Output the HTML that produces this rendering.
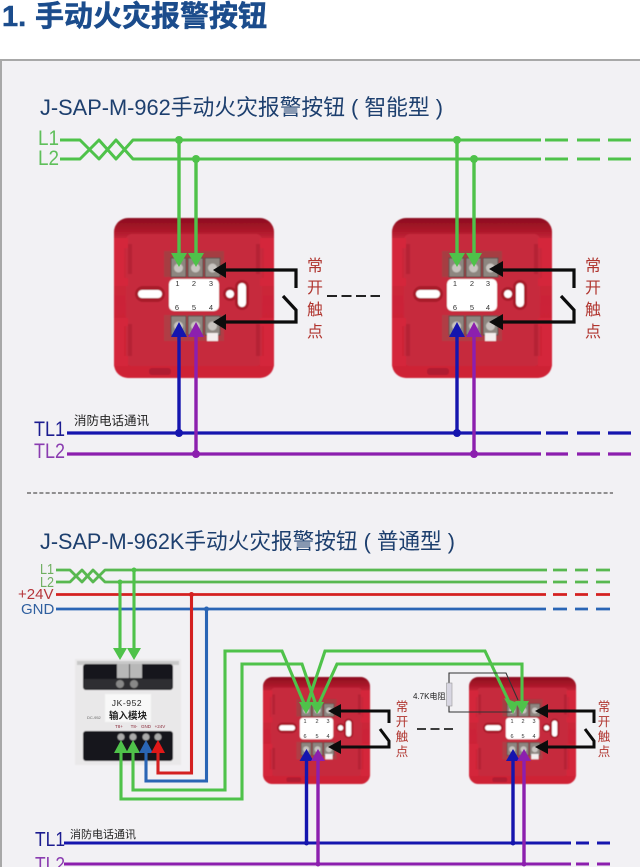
<!DOCTYPE html>
<html><head><meta charset="utf-8"><style>
html,body{margin:0;padding:0;background:#fff;overflow:hidden}
svg{display:block;filter:blur(.35px)}
text{font-family:"Liberation Sans","Noto Sans CJK SC",sans-serif}
</style></head><body>
<svg width="640" height="867" viewBox="0 0 640 867" xmlns="http://www.w3.org/2000/svg">
<defs>
<filter id="b" x="-5%" y="-5%" width="110%" height="110%"><feGaussianBlur stdDeviation="0.5"/></filter>
<linearGradient id="rim" x1="0" y1="0" x2="0" y2="1"><stop offset="0" stop-color="#8c0f20"/><stop offset=".07" stop-color="#a81528"/><stop offset=".14" stop-color="#c9283a"/><stop offset="1" stop-color="#cf2034"/></linearGradient>
<symbol id="dev" viewBox="0 0 160 160" width="160" height="160" overflow="visible">
<rect x="0" y="0" width="160" height="160" rx="14" fill="url(#rim)"/>
<rect x="12" y="16" width="136" height="132" rx="6" fill="#c62c3e"/>
<path d="M0 20h14v10h-4v30h4v8H0zM160 20h-14v10h4v30h-4v8h14zM0 100h14v8h-4v30h4v10H0zM160 100h-14v8h4v30h-4v10h14z" fill="#d4283a"/>
<path d="M14 26h4v30h-4zM146 26h-4v30h4zM14 106h4v32h-4zM146 106h-4v32h4z" fill="#b52134"/>
<rect x="35" y="150" width="22" height="7" rx="3" fill="#b01e30"/>
<rect x="50" y="33" width="60" height="26" fill="#a63d42"/>
<rect x="50" y="97" width="60" height="26" fill="#b03e44"/>
<g fill="#8d8680" stroke="#5b4a48" stroke-width="1">
<rect x="57" y="40" width="15" height="19"/><rect x="74" y="40" width="15" height="19"/><rect x="91" y="40" width="15" height="19"/>
<rect x="57" y="98" width="15" height="19"/><rect x="74" y="98" width="15" height="19"/><rect x="91" y="98" width="15" height="19"/>
</g>
<g fill="#c8c4c0"><circle cx="64.5" cy="50" r="4.5"/><circle cx="81.5" cy="50" r="4.5"/><circle cx="98.5" cy="50" r="4.5"/><circle cx="64.5" cy="108" r="4.5"/><circle cx="81.5" cy="108" r="4.5"/><circle cx="98.5" cy="108" r="4.5"/></g>
<rect x="93" y="115" width="11" height="8" fill="#f4eeee"/>
<rect x="55" y="61" width="50" height="32" rx="5" fill="#fff"/>
<rect x="21" y="68" width="30" height="16" rx="8" fill="#a81a2c"/>
<rect x="24" y="72" width="24" height="8" rx="4" fill="#fff"/>
<circle cx="116" cy="76" r="7" fill="#a81a2c"/>
<circle cx="116" cy="76" r="4" fill="#fff"/>
<rect x="121" y="62" width="14" height="30" rx="7" fill="#a81a2c"/>
<rect x="124" y="65" width="8" height="24" rx="4" fill="#fff"/>
</symbol>
</defs>

<rect width="640" height="867" fill="#fff"/>
<rect x="1" y="60" width="640" height="810" fill="#f2f1f4" stroke="#a8a8a8" stroke-width="2"/>

<text x="2" y="26" font-size="29" font-weight="700" fill="#1b4c8c" stroke="#1b4c8c" stroke-width=".5">1.</text>
<text x="35" y="26" font-size="29" font-weight="700" fill="#1b4c8c" stroke="#1b4c8c" stroke-width=".5">手动火灾报警按钮</text>

<text x="40" y="115" font-size="22" fill="#1d3f6e" textLength="403" lengthAdjust="spacingAndGlyphs">J-SAP-M-962手动火灾报警按钮 ( 智能型 )</text>
<text x="40" y="549" font-size="22" fill="#1d3f6e" textLength="415" lengthAdjust="spacingAndGlyphs">J-SAP-M-962K手动火灾报警按钮 ( 普通型 )</text>

<!-- devices -->
<g filter="url(#b)">
<use href="#dev" x="114" y="218"/>
<use href="#dev" x="392" y="218"/>
<g transform="translate(263 677) scale(.669)"><use href="#dev"/></g>
<g transform="translate(469 677) scale(.669)"><use href="#dev"/></g>
<!-- module -->
<rect x="75" y="659" width="106" height="106" fill="#e9e8e9"/>
<rect x="77" y="661" width="102" height="4" fill="#c8c8c8"/>
<rect x="83" y="664" width="90" height="26" rx="3" fill="#17171a"/>
<rect x="83" y="731" width="90" height="30" rx="3" fill="#17171a"/>
<rect x="84" y="679" width="88" height="10" fill="#2e2e30"/>
<rect x="117" y="664" width="12" height="14" fill="#b8b8b8"/>
<rect x="130" y="664" width="12" height="14" fill="#b8b8b8"/>
<circle cx="120" cy="684" r="4" fill="#888"/><circle cx="134" cy="684" r="4" fill="#888"/>
<circle cx="121" cy="737" r="3.5" fill="#aaa"/><circle cx="133" cy="737" r="3.5" fill="#aaa"/><circle cx="146" cy="737" r="3.5" fill="#aaa"/><circle cx="158" cy="737" r="3.5" fill="#aaa"/>
<rect x="105" y="694" width="46" height="28" fill="#f8f8f8"/>
</g>

<text x="127" y="706" font-size="8.5" text-anchor="middle" fill="#222" letter-spacing=".6">JK-952</text>
<text x="128" y="719" font-size="9.5" font-weight="700" text-anchor="middle" fill="#222">输入模块</text>
<text x="87" y="719" font-size="4" fill="#666">DC-952</text>
<text x="119" y="728" font-size="4.5" text-anchor="middle" fill="#8a2a3a">T8+</text>
<text x="134" y="728" font-size="4.5" text-anchor="middle" fill="#8a2a3a">T8-</text>
<text x="146" y="728" font-size="4.5" text-anchor="middle" fill="#8a2a3a">GND</text>
<text x="160" y="728" font-size="4.5" text-anchor="middle" fill="#8a2a3a">+24V</text>

<!-- terminal numbers -->
<g font-size="7.5" text-anchor="middle" fill="#333">
<text x="177.5" y="286">1</text><text x="194" y="286">2</text><text x="211" y="286">3</text>
<text x="177" y="310">6</text><text x="194" y="310">5</text><text x="211" y="310">4</text>
<text x="455" y="286">1</text><text x="472" y="286">2</text><text x="488" y="286">3</text>
<text x="455" y="310">6</text><text x="472" y="310">5</text><text x="488" y="310">4</text>
</g>
<g font-size="5.5" text-anchor="middle" fill="#333">
<text x="305" y="723">1</text><text x="317" y="723">2</text><text x="328" y="723">3</text>
<text x="305" y="738">6</text><text x="317" y="738">5</text><text x="328" y="738">4</text>
<text x="512" y="723">1</text><text x="523" y="723">2</text><text x="534" y="723">3</text>
<text x="512" y="738">6</text><text x="523" y="738">5</text><text x="534" y="738">4</text>
</g>

<!-- top L1 L2 -->
<g fill="none" stroke="#4fc24a" stroke-width="3" stroke-linejoin="round">
<path d="M60 140H80L99 159L116 140L133 159H541"/>
<path d="M60 159H80L99 140L116 159L133 140H541"/>
<path d="M545 140H568M577 140H600M608 140H631M545 159H568M577 159H600M608 159H631"/>
</g>
<g fill="none" stroke="#4fc24a" stroke-width="3.4">
<path d="M179 140V256M196 159V256M457 140V256M474 159V256"/>
</g>
<g fill="#4fc24a">
<circle cx="179" cy="140" r="4"/><circle cx="196" cy="159" r="4"/><circle cx="457" cy="140" r="4"/><circle cx="474" cy="159" r="4"/>
<path d="M171 253H187L179 267ZM188 253H204L196 267ZM449 253H465L457 267ZM466 253H482L474 267Z"/>
</g>

<!-- TL top -->
<g fill="none" stroke-width="3.2">
<path stroke="#1515ae" d="M67 433H541M546 433H568M577 433H600M608 433H631"/>
<path stroke="#8c1fae" d="M67 454H541M546 454H568M577 454H600M608 454H631"/>
<path stroke="#1515ae" stroke-width="3.4" d="M179 433V335M457 433V335"/>
<path stroke="#8c1fae" stroke-width="3.4" d="M196 454V335M474 454V335"/>
</g>
<g fill="#1515ae"><circle cx="179" cy="433" r="4"/><circle cx="457" cy="433" r="4"/>
<path d="M171 337H187L179 322ZM449 337H465L457 322Z"/></g>
<g fill="#8c1fae"><circle cx="196" cy="454" r="4"/><circle cx="474" cy="454" r="4"/>
<path d="M188 337H204L196 322ZM466 337H482L474 322Z"/></g>

<!-- black switch top -->
<g fill="none" stroke="#0c0c0c" stroke-width="3.2">
<path d="M220 270H296V288M283 296L296 310V322H220"/>
<path d="M495 270H574V288M561 296L574 310V322H495"/>
</g>
<g fill="#0c0c0c">
<path d="M213 270L226 262V278ZM213 322L226 314V330ZM489 269L503 261V277ZM489 322L503 314V330Z"/>
</g>
<path d="M327 296H380" stroke="#222" stroke-width="2" stroke-dasharray="10 4.5" fill="none"/>

<g font-size="16" text-anchor="middle" fill="#b0352f">
<text x="315" y="271">常</text><text x="315" y="293">开</text><text x="315" y="315">触</text><text x="315" y="337">点</text>
<text x="593" y="271">常</text><text x="593" y="293">开</text><text x="593" y="315">触</text><text x="593" y="337">点</text>
</g>

<text x="38" y="145" font-size="21.5" fill="#5fbf5a" textLength="21" lengthAdjust="spacingAndGlyphs">L1</text>
<text x="38" y="165" font-size="21.5" fill="#5fbf5a" textLength="21" lengthAdjust="spacingAndGlyphs">L2</text>
<text x="34" y="436" font-size="21" fill="#1c1c90" textLength="31" lengthAdjust="spacingAndGlyphs">TL1</text>
<text x="34" y="458" font-size="21" fill="#8a3cb0" textLength="31" lengthAdjust="spacingAndGlyphs">TL2</text>
<text x="74" y="425" font-size="12.5" fill="#222">消防电话通讯</text>

<path d="M27 493H613" stroke="#555" stroke-width="1.2" stroke-dasharray="4 2.2" fill="none"/>

<!-- bottom buses -->
<text x="40" y="574" font-size="15" fill="#6fae60" textLength="14" lengthAdjust="spacingAndGlyphs">L1</text>
<text x="40" y="587" font-size="15" fill="#6fae60" textLength="14" lengthAdjust="spacingAndGlyphs">L2</text>
<text x="18" y="599" font-size="15" fill="#b5353a">+24V</text>
<text x="21" y="614" font-size="15" fill="#2f5f9f">GND</text>

<g fill="none" stroke-width="2.8" stroke-linejoin="round">
<g stroke="#58b850">
<path d="M56 570H70L82 582L93 570L105 582H547"/>
<path d="M56 582H70L82 570L93 582L105 570H547"/>
<path d="M553 570H567M575 570H588M596 570H610M553 582H567M575 582H588M596 582H610"/>
</g>
<path stroke="#d42020" d="M56 594.5H546M553 594.5H567M575 594.5H588M596 594.5H610"/>
<path stroke="#2a65b5" d="M56 609H546M553 609H567M575 609H588M596 609H610"/>
</g>
<g fill="none" stroke-width="3.1" stroke-linejoin="miter">
<path stroke="#4fc24a" d="M120 582V650M134 570V650"/>
<path stroke="#d42020" d="M191.5 594.5V773H158V750"/>
<path stroke="#2a65b5" d="M206.5 609V781H146V750"/>
<path stroke="#4fc24a" d="M121 750V799H242V664H302L317 708"/>
<path stroke="#4fc24a" d="M133 750V790H225V651H282L306 708"/>
<path stroke="#4fc24a" d="M306 708L325 651H485L512 708"/>
<path stroke="#4fc24a" d="M317 708L337 664H522V708"/>
</g>
<g fill="#4fc24a">
<circle cx="120" cy="582" r="2.5"/><circle cx="134" cy="570" r="2.5"/>
<path d="M113 648H127L120 660ZM127 648H141L134 660Z"/>
<path d="M114 753H128L121 740ZM126 753H140L133 740Z"/>
<path d="M299 702H313L306 714ZM310 702H324L317 714Z"/>
<path d="M504 698L518 703L513 714ZM515 701H529L522 714Z"/>
</g>
<circle cx="191.5" cy="594.5" r="2.5" fill="#d42020"/>
<circle cx="206.5" cy="609" r="2.5" fill="#2a65b5"/>
<path d="M139 753H153L146 740Z" fill="#2a65b5"/>
<path d="M151 753H165L158 740Z" fill="#e01818"/>

<!-- TL bottom -->
<g fill="none" stroke-width="3">
<path stroke="#1515ae" d="M64 843H571M576 843H589M597 843H610"/>
<path stroke="#8c1fae" d="M64 864H571M576 864H589M597 864H610"/>
<path stroke="#1515ae" stroke-width="3.4" d="M306.5 843V756M513 843V756"/>
<path stroke="#8c1fae" stroke-width="3.4" d="M318 864V756M524 864V756"/>
</g>
<g fill="#1515ae"><circle cx="306.5" cy="843" r="2.5"/><circle cx="513" cy="843" r="2.5"/>
<path d="M299.500 761H313.500L306.500 749ZM506 761H520L513 749Z"/></g>
<g fill="#8c1fae"><circle cx="318" cy="864" r="2.500"/><circle cx="524" cy="864" r="2.500"/>
<path d="M311 761H325L318 749ZM517 761H531L524 749Z"/></g>
<text x="35" y="846" font-size="20" fill="#1c1c90" textLength="30" lengthAdjust="spacingAndGlyphs">TL1</text>
<text x="35" y="871" font-size="20" fill="#8a3cb0" textLength="30" lengthAdjust="spacingAndGlyphs">TL2</text>
<text x="70" y="838" font-size="11" fill="#222">消防电话通讯</text>

<!-- black switch bottom -->
<g fill="none" stroke="#0c0c0c" stroke-width="3">
<path d="M335 711H389V723M380 729L389 741V747H335"/>
<path d="M541 711H594V723M585 729L594 741V747H541"/>
</g>
<g fill="#0c0c0c"><path d="M328 711L341 704V718ZM328 747L341 740V754ZM535 711L548 704V718ZM535 747L548 740V754Z"/></g>
<path d="M417 729H456" stroke="#222" stroke-width="1.8" stroke-dasharray="9 4.5" fill="none"/>
<g font-size="12.500" text-anchor="middle" fill="#b0352f">
<text x="402" y="711">常</text><text x="402" y="726">开</text><text x="402" y="741">触</text><text x="402" y="756">点</text>
<text x="604" y="711">常</text><text x="604" y="726">开</text><text x="604" y="741">触</text><text x="604" y="756">点</text>
</g>
<!-- resistor -->
<path d="M449 683V673H506L518 700M449 706V712H512" fill="none" stroke="#333" stroke-width="1.1"/>
<rect x="446.500" y="683" width="5.500" height="23" fill="#d8d6e2" stroke="#999" stroke-width=".6"/>
<text x="413" y="699" font-size="8" fill="#222">4.7K电阻</text>
</svg>
</body></html>
